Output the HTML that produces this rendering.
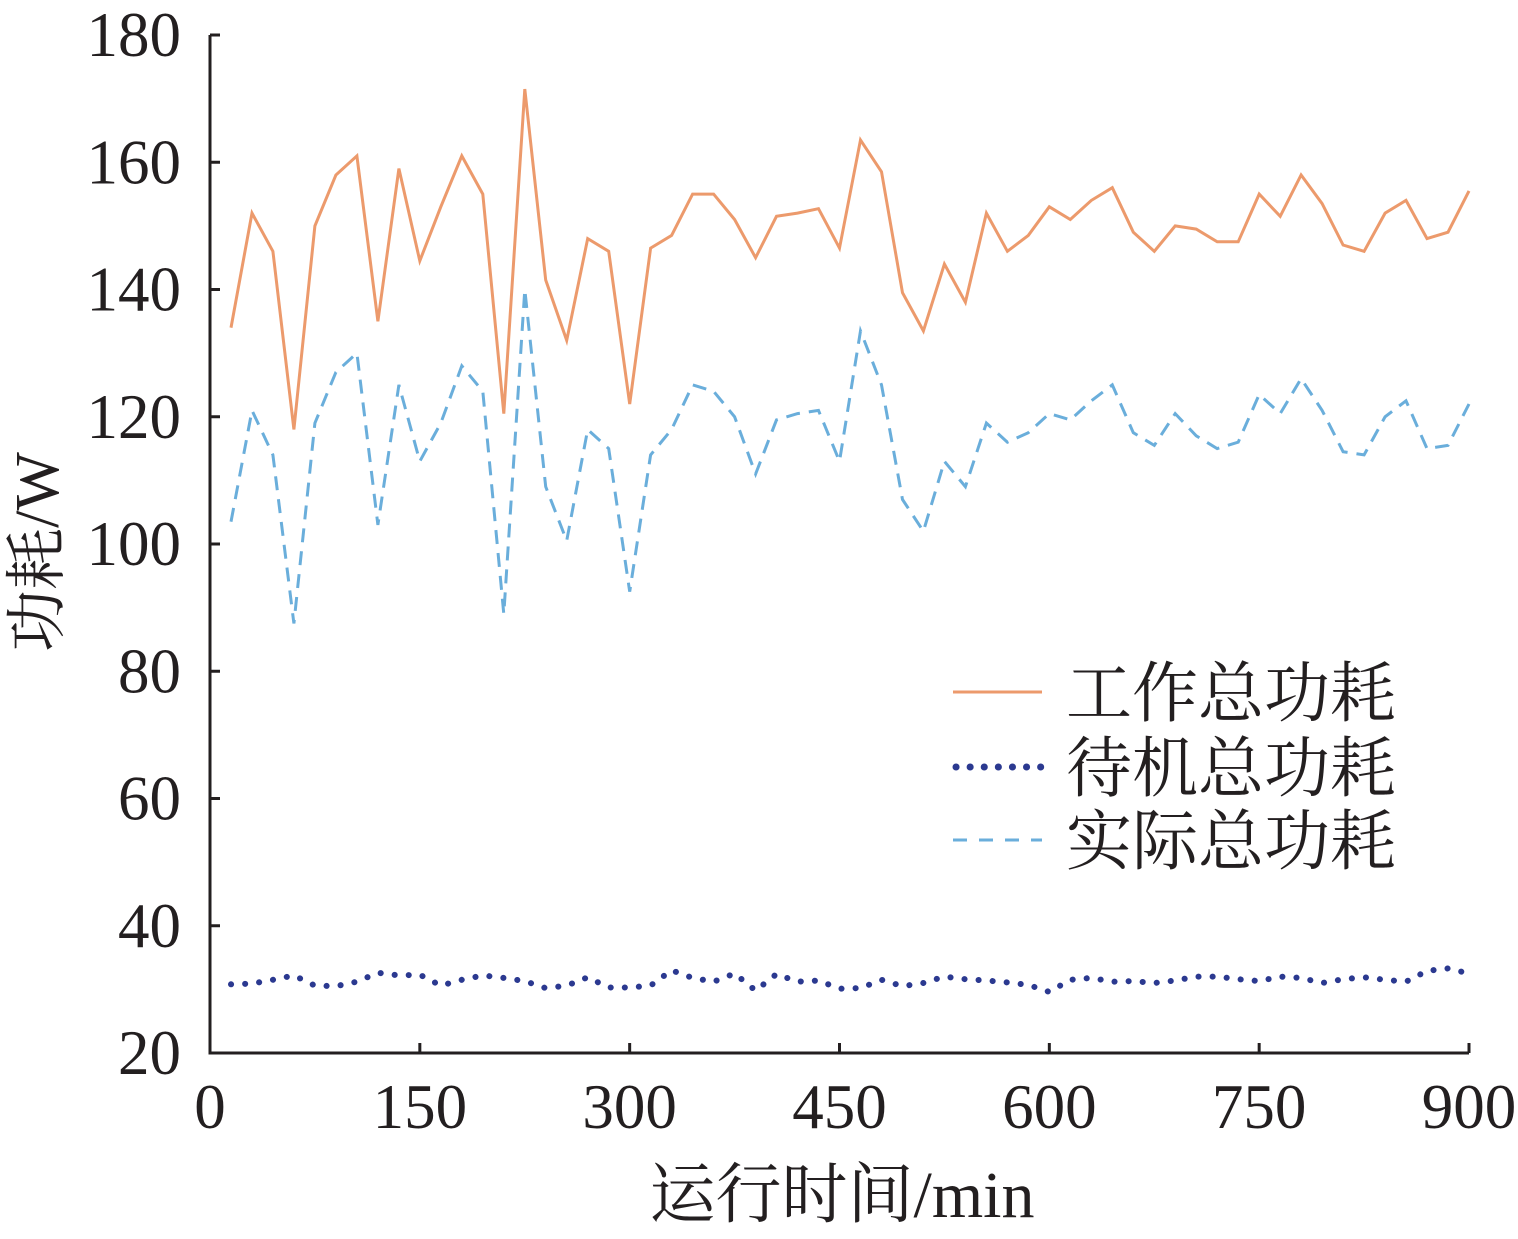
<!DOCTYPE html>
<html><head><meta charset="utf-8"><style>
body{margin:0;background:#fff;}
svg{display:block;}
text{font-family:"Liberation Serif","Noto Serif CJK SC",serif;fill:#231f20;}
</style></head><body>
<svg id="c" width="1518" height="1239" viewBox="0 0 1518 1239"></svg>
<script>
const xTicks=[0,150,300,450,600,750,900];
const yTicks=[20,40,60,80,100,120,140,160,180];
const times=[];for(let t=15;t<=900;t+=15)times.push(t);
const workPower=[134,152,146,118,150,158,161,135,159,144.5,153,161,155,120.5,171.5,141.5,132,148,146,122,146.5,148.5,155,155,151,145,151.5,152,152.7,146.5,163.5,158.5,139.5,133.5,144,138,152,146,148.5,153,151,154,156,149,146,150,149.5,147.5,147.5,155,151.5,158,153.5,147,146,152,154,148,149,155.5];
const actualPower=[103.5,121,114,87.5,119,127,130,103,125,113,119,128,124,89,140,109,100.5,118,115,92.5,114,118,125,124,120,111,119.5,120.5,121,113,133.5,125,107,102,113,109,119,116,117.5,120.5,119.5,122.5,125,117.5,115.5,120.5,117,115,116,123.5,120.5,126,121,114.5,114,120,122.5,115,115.5,122];
const standbyPower=[30.8,30.9,31.5,32.2,30.6,30.5,31.2,32.6,32.2,32.3,30.6,31.5,32.2,31.8,31.3,30.2,30.6,31.9,30.3,30.3,30.6,33,31.8,31.2,32.5,29.8,32.4,31.2,31.4,30.1,30.2,31.5,30.5,31,32,31.6,31.4,31.1,30.7,29.6,31.5,31.8,31.2,31.3,31,31.4,32,32,31.6,31.3,32,31.8,31,31.6,31.9,31.5,31.2,32.9,33.3,32.5];
const X=v=>210+v*(1469-210)/900;
const Y=v=>1053-(v-20)*(1053-35)/160;
const svg=document.getElementById('c');const NS='http://www.w3.org/2000/svg';
function mk(tag,attrs,parent){const e=document.createElementNS(NS,tag);for(const k in attrs)e.setAttribute(k,attrs[k]);(parent||svg).appendChild(e);return e;}
const ax=mk('path',{d:`M210,35 V1053 H1469`,fill:'none',stroke:'#231f20','stroke-width':3});


xTicks.forEach(v=>{
 const l=mk('line',{x1:X(v),x2:X(v),y1:1053,y2:1043,stroke:'#231f20','stroke-width':3});
 
 
 const t=mk('text',{x:X(v),y:1128,'text-anchor':'middle','font-size':63});t.textContent=v;
 
 
});
yTicks.forEach(v=>{
 const l=mk('line',{x1:210,x2:220,y1:Y(v),y2:Y(v),stroke:'#231f20','stroke-width':3});
 
 
 const t=mk('text',{x:181,y:Y(v)+21,'text-anchor':'end','font-size':63});t.textContent=v;
 
 
});
function line(arr,attrs,name){const d=arr.map((v,i)=>(i?'L':'M')+X(times[i]).toFixed(1)+','+Y(v).toFixed(1)).join(' ');
 const p=mk('path',Object.assign({d,fill:'none'},attrs));
 
 }
line(workPower,{stroke:'#ec9a6c','stroke-width':3},'work-power-line');
line(actualPower,{stroke:'#6aaedb','stroke-width':3,'stroke-dasharray':'14,9'},'actual-power-line');
line(standbyPower,{stroke:'#2b3990','stroke-width':6,'stroke-dasharray':'0.1,14','stroke-linecap':'round'},'standby-power-line');
</script>
<svg style="position:absolute;left:0;top:0" width="1518" height="1239">
<text x="842" y="1217" text-anchor="middle" font-size="66">运行时间/min</text>
<text transform="translate(58,552) rotate(-90)" text-anchor="middle" font-size="62">功耗/W</text>
<g>
<line x1="953" x2="1042" y1="692" y2="692" stroke="#ec9a6c" stroke-width="3"/>
<text x="1066" y="716" font-size="66">工作总功耗</text>
<line x1="956" x2="1042" y1="767" y2="767" stroke="#2b3990" stroke-width="7" stroke-dasharray="0.1,14" stroke-linecap="round"/>
<text x="1066" y="791" font-size="66">待机总功耗</text>
<line x1="953" x2="1042" y1="840" y2="840" stroke="#6aaedb" stroke-width="3" stroke-dasharray="14,12"/>
<text x="1066" y="864" font-size="66">实际总功耗</text>
</g>
</svg>
</body></html>
